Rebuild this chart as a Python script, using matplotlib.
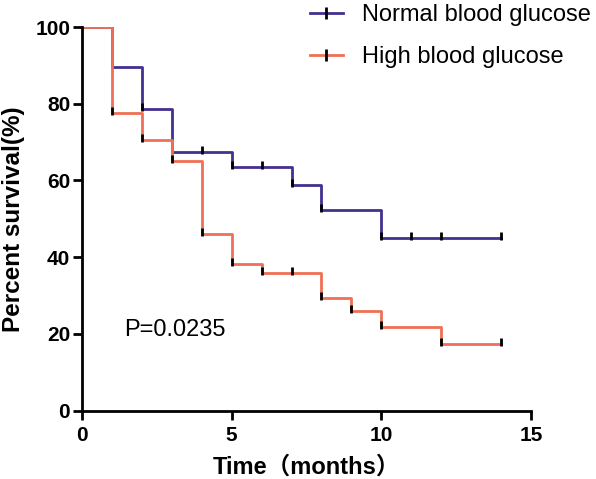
import matplotlib
matplotlib.use("Agg")
import matplotlib.pyplot as plt
from matplotlib.lines import Line2D

plt.rcParams['font.family'] = ['Liberation Sans', 'Noto Sans CJK SC', 'DejaVu Sans']

# step curves: (time, survival %) after each drop
normal_t = [0, 1, 2, 3, 5, 7, 8, 10, 14]
normal_s = [100, 89.5, 78.5, 67.3, 63.5, 58.7, 52.2, 45.0, 45.0]
high_t = [0, 1, 2, 3, 4, 5, 6, 8, 9, 10, 12, 14]
high_s = [100, 77.5, 70.5, 65.1, 46.0, 38.1, 35.9, 29.4, 25.9, 21.9, 17.4, 17.4]

# censor ticks
normal_cens_t = [2, 4, 5, 6, 7, 8, 10, 11, 12, 14]
normal_cens_s = [78.5, 67.3, 63.5, 63.5, 58.7, 52.2, 45.0, 45.0, 45.0, 45.0]
high_cens_t = [1, 2, 3, 4, 5, 6, 7, 8, 9, 10, 12, 14]
high_cens_s = [77.5, 70.5, 65.1, 46.0, 38.1, 35.9, 35.9, 29.4, 25.9, 21.9, 17.4, 17.4]

c_normal = '#43308f'
c_high = '#ef7056'
tick_marker = [(0, -0.3), (0, 1)]

fig = plt.figure(figsize=(5.96, 4.79), dpi=100)
ax = fig.add_axes([0.1376, 0.143, 0.7534, 0.8006])

ax.step(normal_t, normal_s, where='post', color=c_normal, lw=2)
ax.step(high_t, high_s, where='post', color=c_high, lw=2)
ax.plot(normal_cens_t, normal_cens_s, ls='none', marker=tick_marker,
        ms=8, mew=2, mec='black', clip_on=False)
ax.plot(high_cens_t, high_cens_s, ls='none', marker=tick_marker,
        ms=8, mew=2, mec='black', clip_on=False)

ax.set_xlim(0, 15)
ax.set_ylim(0, 100)
ax.set_xticks([0, 5, 10, 15])
ax.set_yticks([0, 20, 40, 60, 80, 100])
for s in ['top', 'right']:
    ax.spines[s].set_visible(False)
for s in ['left', 'bottom']:
    ax.spines[s].set_linewidth(2)
ax.tick_params(width=2, length=6.5, labelsize=15)
ax.tick_params(axis='x', pad=5)
ax.tick_params(axis='y', pad=2)
for lab in ax.get_xticklabels() + ax.get_yticklabels():
    lab.set_fontweight('bold')

ax.set_xlabel('Time（months）', fontsize=17, fontweight='bold', labelpad=7)
ax.set_ylabel('Percent survival(%)', fontsize=17.5, fontweight='bold', labelpad=7)

ax.text(1.4, 21, 'P=0.0235', fontsize=17, va='center')

handles = [
    Line2D([], [], color=c_normal, lw=2, marker='|', ms=8, mew=2, mec='black'),
    Line2D([], [], color=c_high, lw=2, marker='|', ms=8, mew=2, mec='black'),
]
fig.legend(handles, ['Normal blood glucose', 'High blood glucose'],
           loc='upper left', bbox_to_anchor=(0.52, 0.992), frameon=False,
           borderpad=0, borderaxespad=0,
           fontsize=17, handlelength=1.4, labelspacing=0.85, handletextpad=0.8)

fig.savefig('out.png', dpi=100)
